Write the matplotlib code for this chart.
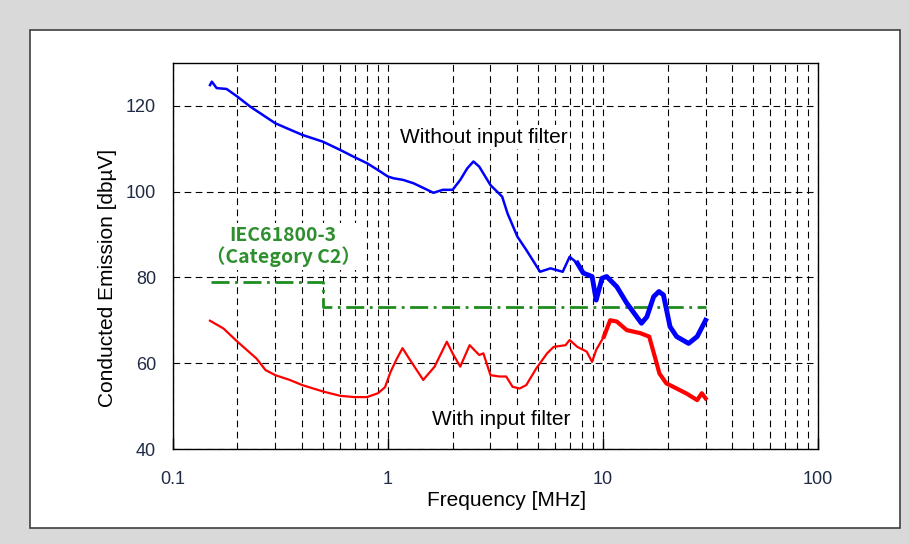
import numpy as np
import matplotlib
matplotlib.use('Agg')
import matplotlib.pyplot as plt
from matplotlib.patches import Rectangle
from matplotlib.ticker import FixedLocator, NullFormatter

# data
f_without = [0.149, 0.152, 0.16, 0.178, 0.2, 0.229, 0.3, 0.4, 0.5, 0.6, 0.7, 0.8, 0.9, 1.0,
             1.06, 1.18, 1.32, 1.63, 1.8, 2.0, 2.17, 2.34, 2.5, 2.66, 2.9, 3.0, 3.4, 3.6,
             4.0, 4.4, 5.1, 5.7, 6.5, 7.0, 7.6, 8.1, 8.9, 9.3, 9.9, 10.4, 11.6, 12.9, 15.1,
             16.0, 17.2, 18.2, 19.1, 20.5, 22, 25, 27.4, 30]
v_without = [124.8, 125.6, 124.1, 123.9, 122.1, 119.8, 115.9, 113.2, 111.6, 109.7, 108, 106.6,
             105, 103.5, 103.1, 102.7, 101.9, 99.7, 100.4, 100.4, 102.7, 105.4, 107, 105.8,
             102.7, 101.5, 98.8, 94.9, 89.5, 86.4, 81.3, 82.1, 81.3, 84.8, 83.3, 81, 80.2,
             74.7, 79.8, 80.2, 77.8, 74, 69.3, 70.8, 75.5, 76.7, 75.9, 68.5, 66.2, 64.6,
             66.2, 70]

f_with = [0.149, 0.172, 0.2, 0.245, 0.27, 0.3, 0.35, 0.4, 0.5, 0.6, 0.7, 0.8, 0.9, 0.97,
          1.03, 1.1, 1.17, 1.27, 1.46, 1.65, 1.88, 2.0, 2.17, 2.4, 2.66, 2.78, 3.0, 3.3,
          3.55, 3.8, 4.1, 4.4, 4.9, 5.5, 5.9, 6.7, 7.0, 7.6, 8.4, 8.9, 9.3, 10.1, 10.8,
          11.6, 12.9, 14.9, 16.4, 17.6, 18.3, 19.7, 22, 24.5, 27.4, 28.8, 30]
v_with = [69.9, 68.1, 65.0, 61.1, 58.4, 57.2, 56.1, 54.9, 53.4, 52.4, 52.1, 52.1, 53, 54.4,
          58, 61, 63.5, 60.7, 56.1, 59.2, 65.0, 62.3, 59.2, 64.2, 61.9, 62.3, 57.2, 56.9,
          56.9, 54.5, 54.1, 54.9, 58.8, 62.3, 63.8, 64.2, 65.4, 63.8, 62.7, 60.3, 63.1,
          66.2, 70, 69.7, 67.7, 67.0, 66.2, 60.7, 57.6, 55.3, 54.1, 52.9, 51.4, 53, 51.8]

f_limit = [0.15, 0.5, 0.5, 30]
v_limit = [79, 79, 73, 73]

x_ticks = [0.1, 1, 10, 100]
x_ticklabels = ['0.1', '1', '10', '100']
y_ticks = [40, 60, 80, 100, 120]

fig = plt.figure(figsize=(9.09, 5.44), dpi=100, facecolor='#d9d9d9')
fig.patches.append(Rectangle((0.033, 0.029), 0.957, 0.916, transform=fig.transFigure,
                             facecolor='white', edgecolor='#404040', lw=1.2, zorder=-10))
ax = fig.add_axes([0.190, 0.1746, 0.710, 0.710])

minor = [m * d for d in (0.1, 1, 10) for m in range(2, 10)]
ax.set_xscale('log')
ax.set_xlim(0.1, 100)
ax.set_ylim(40, 130)
ax.xaxis.set_major_locator(FixedLocator(x_ticks))
ax.xaxis.set_minor_locator(FixedLocator(minor))
ax.xaxis.set_minor_formatter(NullFormatter())
ax.set_xticklabels(x_ticklabels)
ax.set_yticks(y_ticks)

grid_kw = dict(color='black', lw=0.8, linestyle=(0, (6, 4)))
ax.grid(True, which='major', axis='y', **grid_kw)
ax.grid(True, which='both', axis='x', **grid_kw)
ax.set_axisbelow(True)
ax.tick_params(which='both', length=0)
ax.tick_params(axis='x', which='major', direction='in', length=8, width=1)
ax.tick_params(axis='x', pad=16, labelsize=13, labelcolor='#1f2a44')
ax.tick_params(axis='y', pad=12, labelsize=13, labelcolor='#1f2a44')
for lab in ax.get_xticklabels() + ax.get_yticklabels():
    lab.set_family('Liberation Sans')
for s in ax.spines.values():
    s.set_linewidth(1.0)

ax.plot(f_limit, v_limit, color='#1e8c1e', lw=2, linestyle=(0, (6.5, 2, 1, 2)), zorder=3)

fw, vw = np.array(f_without), np.array(v_without)
fr, vr = np.array(f_with), np.array(v_with)
ax.plot(fw, vw, color='#0000ff', lw=1.8, zorder=4)
ax.plot(fr, vr, color='#ff0000', lw=1.6, zorder=4)
# noisy (wide) parts of the traces
mw = fw >= 7.6
mr = fr >= 10.1
ax.plot(fw[mw], vw[mw], color='#0000ff', lw=3.5, zorder=4, solid_joinstyle='round')
ax.plot(fr[mr], vr[mr], color='#ff0000', lw=3.0, zorder=4, solid_joinstyle='round')

box = dict(facecolor='white', edgecolor='none', pad=2)
ax.text(1.14, 112.7, 'Without input filter', fontsize=15, family='Liberation Sans',
        ha='left', va='center', bbox=box, zorder=5)
ax.text(1.6, 46.8, 'With input filter', fontsize=15, family='Liberation Sans',
        ha='left', va='center', bbox=box, zorder=5)
ax.text(0.326, 87.2, 'IEC61800-3\n（Category C2）', fontsize=14, color='#2f8f2f',
        family=['Noto Sans CJK JP', 'DejaVu Sans'], weight='bold', ha='center',
        va='center', linespacing=1.1, bbox=box, zorder=5)

ax.set_xlabel('Frequency [MHz]', fontsize=15, family='Liberation Sans', labelpad=2)
ax.set_ylabel('Conducted Emission [dbµV]', fontsize=15, family='Liberation Sans', labelpad=6)
ax.xaxis.label.set_x(0.517)
ax.yaxis.label.set_y(0.443)

plt.savefig('out.png', dpi=100, facecolor=fig.get_facecolor())
